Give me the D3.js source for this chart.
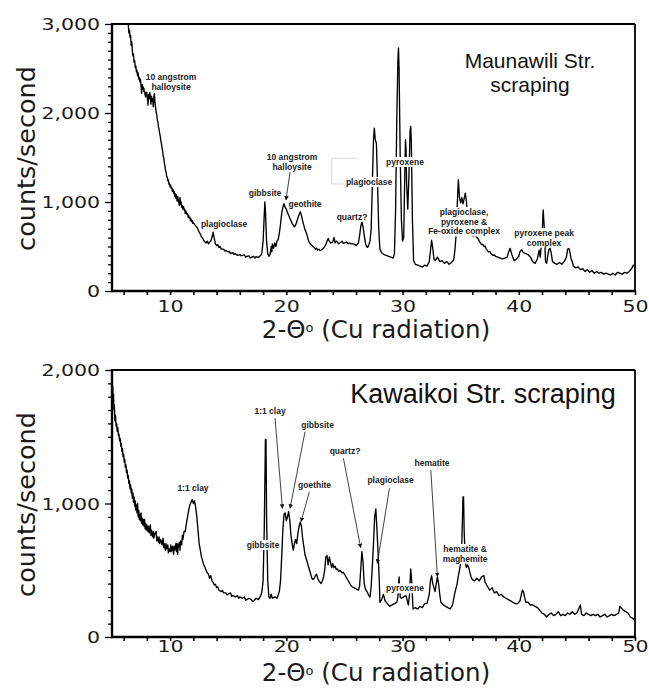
<!DOCTYPE html>
<html>
<head>
<meta charset="utf-8">
<script src="https://cdn.jsdelivr.net/npm/d3@7/dist/d3.min.js"></script>
<style>
  html, body { margin: 0; padding: 0; background: #fff; }
  svg { display: block; }
</style>
</head>
<body>
<svg id="chart" width="649" height="688"></svg>
<script>
// ---------------- DATA ----------------
const thetaLabelTicks = [10, 20, 30, 40, 50];
const thetaMinorTicks = d3.range(6, 51, 2);
const topCountTicks = [0, 1000, 2000, 3000];
const bottomCountTicks = [0, 1000, 2000];

const topTitle = ["Maunawili Str.", "scraping"];
const bottomTitle = ["Kawaikoi Str. scraping"];
const yAxisTitle = "counts/second";

// Maunawili Str. scraping: [2-theta, counts/second]
const maunawiliPattern = [
[6.30,3100],[6.40,3000],[6.45,2900],[6.50,2930],[6.55,2850],[6.60,2870],[6.65,2760],[6.70,2800],[6.75,2700],
[6.80,2640],[6.85,2660],[6.90,2570],[6.95,2590],[7.00,2510],[7.05,2530],[7.10,2460],[7.15,2480],[7.20,2420],
[7.25,2450],[7.30,2380],[7.35,2400],[7.40,2350],[7.45,2380],[7.50,2300],[7.55,2220],[7.60,2320],[7.65,2270],
[7.70,2290],[7.75,2240],[7.80,2270],[7.85,2200],[7.90,2180],[7.95,2300],[8.00,2220],[8.05,2160],[8.10,2090],
[8.15,2210],[8.20,2160],[8.25,2230],[8.30,2180],[8.35,2100],[8.40,2190],[8.45,2130],[8.50,2160],[8.55,2070],
[8.60,2180],[8.65,2220],[8.70,2110],[8.75,2060],[8.80,2010],[8.85,1980],[8.90,1920],[8.95,1900],[9.00,1840],
[9.05,1820],[9.10,1770],[9.15,1740],[9.20,1690],[9.25,1660],[9.30,1610],[9.35,1580],[9.40,1520],[9.45,1500],
[9.50,1440],[9.55,1410],[9.60,1360],[9.65,1340],[9.70,1290],[9.75,1280],[9.80,1240],[9.85,1250],[9.90,1200],
[9.95,1210],[10.0,1170],[10.05,1190],[10.1,1150],[10.15,1160],[10.2,1120],[10.25,1140],[10.3,1100],[10.35,1120],
[10.4,1060],[10.45,1090],[10.5,1040],[10.55,1080],[10.6,1010],[10.65,1060],[10.7,1030],[10.75,990],[10.8,960],
[10.85,1050],[10.9,970],[10.95,1000],[11.0,940],[11.05,960],[11.1,920],[11.15,950],[11.2,910],[11.25,920],
[11.3,870],[11.35,900],[11.4,880],[11.45,860],[11.5,870],[11.55,830],[11.6,850],[11.65,820],[11.7,830],
[11.75,790],[11.8,810],[11.85,780],[11.9,790],[11.95,760],[12.0,770],[12.1,750],[12.2,730],[12.3,720],[12.4,690],
[12.5,660],[12.6,640],[12.7,610],[12.8,590],[12.9,570],[13.0,550],[13.1,540],[13.2,560],[13.3,530],[13.4,550],
[13.5,560],[13.6,600],[13.7,660],[13.8,590],[13.9,530],[14.0,510],[14.1,520],[14.2,490],[14.3,500],[14.4,470],
[14.6,470],[14.7,450],[14.8,455],[15.0,440],[15.1,445],[15.2,420],[15.4,430],[15.5,410],[15.6,420],[15.8,400],
[16.0,410],[16.1,395],[16.2,400],[16.4,405],[16.5,380],[16.6,390],[16.8,395],[16.9,370],[17.0,380],[17.2,390],
[17.3,370],[17.4,385],[17.6,375],[17.7,390],[17.8,400],[17.9,430],[18.0,560],[18.1,850],[18.15,1000],[18.2,900],
[18.3,560],[18.4,420],[18.5,390],[18.6,410],[18.7,500],[18.75,440],[18.8,530],[18.9,480],[19.0,540],[19.1,500],
[19.2,560],[19.3,580],[19.4,650],[19.5,750],[19.6,870],[19.7,940],[19.8,980],[19.9,940],[20.0,920],[20.1,880],
[20.2,850],[20.3,820],[20.4,790],[20.5,760],[20.6,740],[20.7,720],[20.8,740],[20.9,780],[21.0,820],[21.1,860],
[21.2,890],[21.3,850],[21.4,790],[21.5,740],[21.6,690],[21.7,660],[21.8,620],[21.9,570],[22.0,540],[22.1,525],
[22.2,510],[22.3,500],[22.4,490],[22.5,470],[22.6,480],[22.7,460],[22.8,470],[22.9,455],[23.0,460],[23.1,470],
[23.2,480],[23.4,520],[23.5,560],[23.6,590],[23.7,560],[23.8,540],[24.0,550],[24.1,600],[24.2,540],[24.3,560],
[24.4,550],[24.5,530],[24.6,540],[24.8,560],[24.9,535],[25.0,540],[25.2,550],[25.3,530],[25.4,540],[25.6,530],
[25.8,530],[26.0,510],[26.2,540],[26.3,620],[26.4,720],[26.5,780],[26.6,720],[26.7,630],[26.8,540],[26.9,500],
[27.0,490],[27.1,520],[27.2,560],[27.3,700],[27.4,1200],[27.5,1700],[27.57,1830],[27.65,1700],[27.75,1660],
[27.85,1200],[27.95,700],[28.05,470],[28.2,430],[28.4,410],[28.6,400],[28.8,390],[29.0,380],[29.2,370],[29.3,420],
[29.4,900],[29.5,1900],[29.6,2600],[29.65,2730],[29.7,2500],[29.8,1500],[29.9,800],[30.0,560],[30.1,600],
[30.15,1000],[30.25,1700],[30.3,1600],[30.35,1200],[30.45,920],[30.55,1300],[30.65,1800],[30.7,1850],[30.75,1700],
[30.85,800],[30.95,340],[31.1,300],[31.3,290],[31.5,280],[31.7,270],[31.9,290],[32.1,280],[32.3,330],[32.4,450],
[32.5,570],[32.6,480],[32.7,360],[32.8,340],[33.0,380],[33.2,330],[33.4,340],[33.6,310],[33.8,330],[34.0,300],
[34.2,320],[34.4,350],[34.5,450],[34.6,620],[34.7,950],[34.8,1250],[34.9,1050],[35.0,990],[35.1,1050],[35.2,980],
[35.3,1040],[35.4,1100],[35.5,1000],[35.6,800],[35.7,700],[35.9,650],[36.1,610],[36.2,680],[36.3,620],[36.4,600],
[36.5,590],[36.6,560],[36.7,540],[36.8,520],[36.9,525],[37.0,500],[37.1,505],[37.2,470],[37.4,440],[37.5,445],
[37.6,420],[37.8,400],[37.9,405],[38.0,390],[38.2,380],[38.4,370],[38.6,360],[38.8,370],[39.0,380],[39.1,430],
[39.25,480],[39.4,410],[39.6,340],[39.8,360],[40.0,390],[40.1,440],[40.25,465],[40.4,430],[40.6,420],[40.8,410],
[41.0,380],[41.2,330],[41.4,310],[41.6,360],[41.75,460],[41.85,380],[42.0,600],[42.1,910],[42.2,700],[42.3,330],
[42.4,310],[42.5,400],[42.6,470],[42.7,480],[42.8,420],[42.9,330],[43.1,310],[43.3,300],[43.5,320],[43.7,300],
[43.9,330],[44.1,380],[44.2,470],[44.3,480],[44.4,440],[44.5,360],[44.6,330],[44.7,280],[44.9,260],[45.1,270],
[45.3,240],[45.5,250],[45.7,220],[45.9,240],[46.1,210],[46.3,230],[46.5,200],[46.7,220],[46.9,200],[47.1,210],
[47.3,190],[47.5,200],[47.7,190],[47.9,180],[48.1,200],[48.3,180],[48.5,210],[48.7,200],[48.9,190],[49.1,210],
[49.3,200],[49.5,220],[49.7,250],[49.85,290],[50.0,280]
];

// Kawaikoi Str. scraping: [2-theta, counts/second]
const kawaikoiPattern = [
[5.0,1920],[5.03,1830],[5.06,1880],[5.1,1770],[5.13,1820],[5.17,1700],[5.2,1740],[5.25,1620],[5.3,1660],
[5.35,1580],[5.4,1600],[5.45,1540],[5.5,1570],[5.55,1510],[5.6,1520],[5.65,1470],[5.7,1490],[5.75,1430],
[5.8,1450],[5.85,1390],[5.9,1410],[5.95,1350],[6.0,1370],[6.05,1310],[6.1,1330],[6.15,1270],[6.2,1290],
[6.25,1230],[6.3,1250],[6.35,1190],[6.4,1210],[6.45,1150],[6.5,1170],[6.55,1110],[6.6,1140],[6.65,1080],
[6.7,1110],[6.75,1040],[6.8,1080],[6.85,1010],[6.9,1050],[6.95,980],[7.0,1020],[7.05,950],[7.1,990],[7.15,930],
[7.2,1000],[7.25,900],[7.3,950],[7.35,880],[7.4,920],[7.45,870],[7.5,930],[7.55,850],[7.6,890],[7.65,840],
[7.7,880],[7.75,830],[7.8,880],[7.85,810],[7.9,850],[7.95,800],[8.0,840],[8.1,790],[8.15,830],[8.2,780],
[8.3,840],[8.35,760],[8.4,800],[8.5,750],[8.55,790],[8.6,740],[8.7,780],[8.8,790],[8.85,720],[8.9,750],[9.0,710],
[9.05,750],[9.1,700],[9.2,730],[9.3,690],[9.4,740],[9.45,670],[9.5,700],[9.6,650],[9.65,700],[9.7,660],[9.8,690],
[9.85,630],[9.9,660],[10.0,640],[10.05,690],[10.1,640],[10.2,680],[10.3,620],[10.35,680],[10.4,650],[10.5,700],
[10.55,640],[10.6,700],[10.65,620],[10.7,680],[10.8,710],[10.85,650],[10.9,720],[11.0,690],[11.05,760],
[11.1,730],[11.2,790],[11.3,790],[11.4,850],[11.5,900],[11.6,950],[11.7,990],[11.8,1010],[11.9,1030],[12.0,1000],
[12.1,1020],[12.2,970],[12.3,900],[12.4,800],[12.5,700],[12.6,650],[12.7,600],[12.8,570],[12.9,540],[13.0,520],
[13.1,500],[13.2,480],[13.3,470],[13.4,440],[13.5,460],[13.6,420],[13.7,410],[13.8,390],[13.9,395],[14.0,370],
[14.1,375],[14.2,350],[14.4,340],[14.5,350],[14.6,330],[14.8,330],[14.9,315],[15.0,320],[15.2,330],[15.3,305],
[15.4,310],[15.6,300],[15.8,310],[15.9,290],[16.0,300],[16.2,290],[16.4,300],[16.5,275],[16.6,280],[16.8,290],
[17.0,280],[17.1,265],[17.2,270],[17.4,290],[17.6,280],[17.8,310],[17.9,340],[18.0,420],[18.1,800],[18.2,1480],
[18.25,1480],[18.3,900],[18.4,420],[18.5,300],[18.6,290],[18.7,320],[18.8,290],[19.0,300],[19.2,290],[19.4,340],
[19.5,420],[19.6,600],[19.7,800],[19.8,920],[19.9,930],[20.0,870],[20.1,900],[20.2,940],[20.3,870],[20.4,760],
[20.5,700],[20.6,650],[20.7,700],[20.8,730],[20.9,700],[21.0,780],[21.1,830],[21.2,860],[21.3,830],[21.4,740],
[21.5,680],[21.6,620],[21.7,590],[21.8,560],[21.9,530],[22.0,500],[22.1,470],[22.2,440],[22.3,430],[22.4,440],
[22.5,460],[22.6,470],[22.7,440],[22.8,420],[22.9,410],[23.0,400],[23.1,420],[23.2,450],[23.3,500],[23.4,600],
[23.5,610],[23.6,540],[23.7,600],[23.8,560],[23.9,520],[24.0,550],[24.1,520],[24.2,530],[24.3,505],[24.4,510],
[24.5,490],[24.6,500],[24.8,480],[24.9,485],[25.0,470],[25.2,440],[25.4,410],[25.6,380],[25.8,370],[26.0,360],
[26.2,350],[26.3,380],[26.4,500],[26.5,640],[26.6,560],[26.7,400],[26.8,360],[27.0,330],[27.1,310],[27.2,300],
[27.3,380],[27.4,530],[27.5,700],[27.6,900],[27.7,960],[27.8,800],[27.9,620],[28.0,420],[28.05,260],[28.2,280],
[28.35,320],[28.5,270],[28.7,250],[28.9,230],[29.1,240],[29.3,250],[29.5,260],[29.6,300],[29.7,450],[29.8,300],
[29.9,290],[30.1,300],[30.3,310],[30.5,240],[30.6,320],[30.7,510],[30.8,400],[30.9,210],[31.1,220],[31.3,210],
[31.5,230],[31.7,220],[31.9,250],[32.1,250],[32.3,320],[32.4,420],[32.5,460],[32.6,400],[32.7,370],[32.8,340],
[32.9,400],[33.0,450],[33.1,400],[33.2,320],[33.3,260],[33.5,240],[33.7,230],[33.9,220],[34.1,210],[34.3,240],
[34.5,330],[34.7,400],[34.8,460],[34.9,500],[35.0,560],[35.1,700],[35.2,1050],[35.25,1050],[35.3,800],[35.4,560],
[35.5,520],[35.6,540],[35.7,520],[35.8,480],[35.9,450],[36.0,430],[36.2,420],[36.4,440],[36.6,420],[36.8,450],
[37.0,460],[37.1,410],[37.3,380],[37.5,350],[37.7,370],[37.9,330],[38.1,340],[38.3,310],[38.5,320],[38.7,300],
[38.9,290],[39.1,280],[39.3,270],[39.5,260],[39.7,250],[39.9,250],[40.1,270],[40.3,350],[40.4,340],[40.6,260],
[40.8,260],[41.0,240],[41.2,240],[41.4,230],[41.6,220],[41.8,200],[42.0,180],[42.2,170],[42.4,150],[42.6,170],
[42.8,180],[43.0,160],[43.2,170],[43.4,190],[43.6,160],[43.8,170],[44.0,160],[44.2,180],[44.4,170],[44.6,190],
[44.8,170],[45.0,180],[45.2,220],[45.3,240],[45.4,170],[45.6,160],[45.8,180],[46.0,170],[46.2,160],[46.4,170],
[46.6,160],[46.8,170],[47.0,150],[47.2,160],[47.4,170],[47.6,150],[47.8,160],[48.0,170],[48.2,160],[48.4,170],
[48.6,180],[48.7,230],[48.8,220],[49.0,200],[49.2,190],[49.4,180],[49.6,150],[49.8,140],[50.0,120]
];

// Peak annotations (anchor in data units: 2-theta, counts)
const maunawiliNotes = [
  { lines: ["10 angstrom", "halloysite"], at: [10.08, 2371] },
  { lines: ["plagioclase"], at: [14.64, 719] },
  { lines: ["gibbsite"], at: [18.17, 1067] },
  { lines: ["10 angstrom", "halloysite"], at: [20.49, 1472] },
  { lines: ["geothite"], at: [21.61, 944] },
  { lines: ["quartz?"], at: [25.65, 798] },
  { lines: ["plagioclase"], at: [27.12, 1191] },
  { lines: ["pyroxene"], at: [30.21, 1416] },
  { lines: ["plagioclase,", "pyroxene &", "Fe-oxide complex"], at: [35.29, 854] },
  { lines: ["pyroxene peak", "complex"], at: [42.18, 618] }
];
const maunawiliArrows = [
  { from: [20.32, 1337], to: [19.97, 1022] }
];
const maunawiliBracket = [[26.2, 1491], [23.91, 1491], [23.91, 1202], [25.05, 1202]];

const kawaikoiNotes = [
  { lines: ["1:1 clay"], at: [11.97, 1094] },
  { lines: ["gibbsite"], at: [18.0, 667] },
  { lines: ["1:1 clay"], at: [18.6, 1673] },
  { lines: ["gibbsite"], at: [22.69, 1566] },
  { lines: ["goethite"], at: [22.43, 1116] },
  { lines: ["quartz?"], at: [25.05, 1371] },
  { lines: ["plagioclase"], at: [28.97, 1154] },
  { lines: ["hematite"], at: [32.54, 1281] },
  { lines: ["hematite &", "maghemite"], at: [35.38, 637] },
  { lines: ["pyroxene"], at: [30.21, 342] }
];
const kawaikoiArrows = [
  { from: [19.03, 1640], to: [19.66, 964] },
  { from: [21.61, 1538], to: [20.32, 964] },
  { from: [21.98, 1088], to: [21.27, 864] },
  { from: [24.91, 1339], to: [26.40, 669] },
  { from: [28.87, 1114], to: [27.83, 552] },
  { from: [32.43, 1251], to: [33.00, 452] }
];

// ---------------- LAYOUT ----------------
const svg = d3.select("#chart");
const plotLeft = 112, plotRight = 635;
const tickFont = "'DejaVu Sans', Verdana, sans-serif";
const noteFont = "'Liberation Sans', Arial, sans-serif";

const defs = svg.append("defs");
defs.append("marker")
  .attr("id", "arrowhead")
  .attr("viewBox", "0 0 10 10")
  .attr("refX", 9).attr("refY", 5)
  .attr("markerWidth", 4.5).attr("markerHeight", 4.5)
  .attr("markerUnits", "userSpaceOnUse")
  .attr("orient", "auto")
  .append("path").attr("d", "M0,0 L10,5 L0,10 Z").attr("fill", "#111");

const fmt = d3.format(",");

function drawPanel(cfg) {
  const x = d3.scaleLinear().domain([5, 50]).range([plotLeft, plotRight]);
  const y = d3.scaleLinear().domain([0, cfg.yMax]).range([cfg.bottom, cfg.top]);
  const g = svg.append("g");

  const clipId = "clip-" + cfg.id;
  defs.append("clipPath").attr("id", clipId)
    .append("rect").attr("x", plotLeft).attr("y", cfg.top)
    .attr("width", plotRight - plotLeft).attr("height", cfg.bottom - cfg.top);

  // pattern trace
  const line = d3.line().x(d => x(d[0])).y(d => y(d[1]));
  g.append("path")
    .datum(cfg.pattern)
    .attr("clip-path", `url(#${clipId})`)
    .attr("d", line)
    .attr("fill", "none")
    .attr("stroke", "#000")
    .attr("stroke-width", 1.35)
    .attr("stroke-linejoin", "round");

  if (cfg.bracket) {
    g.append("path")
      .attr("d", d3.line().x(d => x(d[0])).y(d => y(d[1]))(cfg.bracket))
      .attr("fill", "none").attr("stroke", "#d8d8d8").attr("stroke-width", 1);
  }

  // notes with white background
  cfg.notes.forEach(n => {
    const ng = g.append("g");
    const t = ng.append("text")
      .attr("x", x(n.at[0])).attr("y", y(n.at[1]))
      .attr("text-anchor", "middle")
      .attr("font-family", noteFont)
      .attr("font-weight", "bold")
      .attr("font-size", "8.5px")
      .attr("fill", "#222");
    n.lines.forEach((s, i) => {
      t.append("tspan").attr("x", x(n.at[0])).attr("dy", i === 0 ? 0 : 9.7).text(s);
    });
    const bb = t.node().getBBox();
    ng.insert("rect", "text")
      .attr("x", bb.x - 1).attr("y", bb.y)
      .attr("width", bb.width + 2).attr("height", bb.height)
      .attr("fill", "#fff");
  });

  // arrows
  cfg.arrows.forEach(a => {
    g.append("line")
      .attr("x1", x(a.from[0])).attr("y1", y(a.from[1]))
      .attr("x2", x(a.to[0])).attr("y2", y(a.to[1]))
      .attr("stroke", "#111").attr("stroke-width", 0.8)
      .attr("marker-end", "url(#arrowhead)");
  });

  // x axis
  const xAxis = d3.axisBottom(x)
    .tickValues(thetaMinorTicks)
    .tickSize(4).tickPadding(6)
    .tickFormat(d => thetaLabelTicks.includes(d) ? d : "");
  const gx = g.append("g").attr("transform", `translate(0,${cfg.bottom})`).call(xAxis);
  gx.select(".domain").remove();
  gx.selectAll(".tick line").attr("stroke", "#000").attr("stroke-width", 1.6);
  gx.selectAll(".tick text")
    .attr("font-family", tickFont).attr("font-size", "16px").attr("fill", "#1a1a1a")
    .attr("y", cfg.xLabelGap).attr("dy", 0)
    .attr("transform", "scale(1.28,1)");

  // y axis
  const yAxis = d3.axisLeft(y)
    .tickValues(d3.range(0, cfg.yMax + 1, 100))
    .tickSize(4).tickPadding(6)
    .tickFormat(d => cfg.yLabels.includes(d) ? fmt(d) : "");
  const gy = g.append("g").attr("transform", `translate(${plotLeft},0)`).call(yAxis);
  gy.select(".domain").remove();
  gy.selectAll(".tick line").attr("stroke", "#000").attr("stroke-width", 1.3)
    .attr("x2", d => cfg.yLabels.includes(d) ? -7 : -4);
  gy.selectAll(".tick text")
    .attr("font-family", tickFont).attr("font-size", "16px").attr("fill", "#1a1a1a")
    .attr("x", 0).attr("dy", "0.36em")
    .attr("transform", "translate(-12,0) scale(1.28,1)");

  // frame
  g.append("line").attr("x1", plotLeft).attr("x2", plotRight).attr("y1", cfg.top).attr("y2", cfg.top)
    .attr("stroke", "#000").attr("stroke-width", 1.8);
  g.append("line").attr("x1", plotRight).attr("x2", plotRight).attr("y1", cfg.top).attr("y2", cfg.bottom)
    .attr("stroke", "#000").attr("stroke-width", 1.8);
  g.append("line").attr("x1", plotLeft).attr("x2", plotLeft).attr("y1", cfg.top - 1).attr("y2", cfg.bottom + 1)
    .attr("stroke", "#000").attr("stroke-width", 2.4);
  g.append("line").attr("x1", plotLeft - 1).attr("x2", plotRight + 1).attr("y1", cfg.bottom).attr("y2", cfg.bottom)
    .attr("stroke", "#000").attr("stroke-width", 2.4);

  // title inside plot
  const tt = g.append("text")
    .attr("x", cfg.titleX).attr("y", cfg.titleY)
    .attr("text-anchor", "middle")
    .attr("font-family", noteFont)
    .attr("font-size", cfg.titleSize + "px")
    .attr("fill", "#111");
  cfg.title.forEach((s, i) => {
    tt.append("tspan").attr("x", cfg.titleX).attr("dy", i === 0 ? 0 : cfg.titleSize * 1.12).text(s);
  });

  // y axis title
  g.append("text")
    .attr("transform", `translate(35,${(cfg.top + cfg.bottom) / 2 + 1}) rotate(-90)`)
    .attr("text-anchor", "middle")
    .attr("font-family", tickFont)
    .attr("font-size", "25.5px")
    .attr("fill", "#1a1a1a")
    .text(yAxisTitle);

  // x axis title
  const xt = g.append("text")
    .attr("x", 376).attr("y", cfg.xTitleY)
    .attr("text-anchor", "middle")
    .attr("font-family", tickFont)
    .attr("font-size", "24.5px")
    .attr("fill", "#1a1a1a");
  xt.append("tspan").text("2-\u0398");
  xt.append("tspan").attr("font-size", "13px").attr("dy", -6).text("o");
  xt.append("tspan").attr("dy", 6).text(" (Cu radiation)");
}

drawPanel({
  id: "top", top: 24, bottom: 291, yMax: 3000, yLabels: topCountTicks,
  pattern: maunawiliPattern, notes: maunawiliNotes, arrows: maunawiliArrows,
  bracket: maunawiliBracket, xTitleY: 338, xLabelGap: 21,
  title: topTitle, titleX: 530, titleY: 68, titleSize: 21
});

drawPanel({
  id: "bottom", top: 370, bottom: 637, yMax: 2000, yLabels: bottomCountTicks,
  pattern: kawaikoiPattern, notes: kawaikoiNotes, arrows: kawaikoiArrows,
  bracket: null, xTitleY: 681, xLabelGap: 14.5,
  title: bottomTitle, titleX: 483, titleY: 403, titleSize: 27
});
</script>
</body>
</html>
